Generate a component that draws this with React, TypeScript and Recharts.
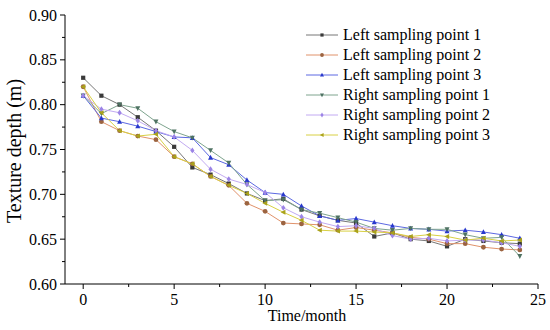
import { LineChart, Line, XAxis, YAxis } from "recharts"

const months = [0, 1, 2, 3, 4, 5, 6, 7, 8, 9, 10, 11, 12, 13, 14, 15, 16, 17, 18, 19, 20, 21, 22, 23, 24]

const left1 = [0.83, 0.81, 0.8, 0.786, 0.771, 0.753, 0.73, 0.722, 0.712, 0.701, 0.693, 0.695, 0.683, 0.676, 0.671, 0.668, 0.653, 0.657, 0.65, 0.648, 0.642, 0.65, 0.648, 0.646, 0.645]
const left2 = [0.82, 0.781, 0.771, 0.765, 0.761, 0.742, 0.734, 0.72, 0.71, 0.69, 0.681, 0.668, 0.667, 0.666, 0.66, 0.663, 0.66, 0.657, 0.652, 0.65, 0.645, 0.645, 0.641, 0.639, 0.638]
const left3 = [0.81, 0.785, 0.781, 0.776, 0.77, 0.764, 0.763, 0.741, 0.733, 0.716, 0.702, 0.7, 0.687, 0.676, 0.671, 0.673, 0.669, 0.665, 0.662, 0.661, 0.659, 0.66, 0.658, 0.655, 0.651]
const right1 = [0.81, 0.79, 0.8, 0.796, 0.781, 0.77, 0.763, 0.749, 0.735, 0.711, 0.693, 0.694, 0.683, 0.679, 0.674, 0.669, 0.662, 0.66, 0.662, 0.661, 0.661, 0.655, 0.651, 0.652, 0.631]
const right2 = [0.81, 0.795, 0.791, 0.782, 0.771, 0.764, 0.749, 0.728, 0.717, 0.711, 0.702, 0.685, 0.675, 0.669, 0.664, 0.665, 0.662, 0.654, 0.65, 0.651, 0.648, 0.649, 0.649, 0.646, 0.642]
const right3 = [0.82, 0.791, 0.771, 0.765, 0.767, 0.742, 0.734, 0.72, 0.71, 0.701, 0.69, 0.68, 0.671, 0.66, 0.659, 0.659, 0.658, 0.657, 0.653, 0.655, 0.653, 0.649, 0.651, 0.648, 0.649]

const xTicks = [0, 2.5, 5, 7.5, 10, 12.5, 15, 17.5, 20, 22.5, 25]
const yTicks = [0.6, 0.625, 0.65, 0.675, 0.7, 0.725, 0.75, 0.775, 0.8, 0.825, 0.85, 0.875, 0.9]

const FONT = '"Liberation Serif", "Times New Roman", serif'

type Shape = "square" | "circle" | "up" | "down" | "diamond" | "left"

const SERIES: { key: string; name: string; values: number[]; line: string; mark: string; shape: Shape }[] = [
  { key: "L1", name: "Left sampling point 1", values: left1, line: "#777777", mark: "#3a3a3a", shape: "square" },
  { key: "L2", name: "Left sampling point 2", values: left2, line: "#e0926a", mark: "#9c6440", shape: "circle" },
  { key: "L3", name: "Left sampling point 3", values: left3, line: "#5c68e2", mark: "#2838cc", shape: "up" },
  { key: "R1", name: "Right sampling point 1", values: right1, line: "#7ea48e", mark: "#4e7262", shape: "down" },
  { key: "R2", name: "Right sampling point 2", values: right2, line: "#c2aaf2", mark: "#9c84e6", shape: "diamond" },
  { key: "R3", name: "Right sampling point 3", values: right3, line: "#d8d044", mark: "#aaa21a", shape: "left" },
]

const data = months.map((m, i) => {
  const row: Record<string, number> = { m }
  for (const s of SERIES) row[s.key] = s.values[i]
  return row
})

function Marker({ cx, cy, shape, color, r = 2.1 }: { cx: number; cy: number; shape: Shape; color: string; r?: number }) {
  if (shape === "square") return <rect x={cx - r} y={cy - r} width={r * 2} height={r * 2} fill={color} />
  if (shape === "circle") return <circle cx={cx} cy={cy} r={r + 0.3} fill={color} />
  if (shape === "up") return <polygon points={`${cx},${cy - r - 0.6} ${cx - r - 0.4},${cy + r} ${cx + r + 0.4},${cy + r}`} fill={color} />
  if (shape === "down") return <polygon points={`${cx},${cy + r + 0.6} ${cx - r - 0.4},${cy - r} ${cx + r + 0.4},${cy - r}`} fill={color} />
  if (shape === "diamond") return <polygon points={`${cx},${cy - r - 0.8} ${cx + r},${cy} ${cx},${cy + r + 0.8} ${cx - r},${cy}`} fill={color} />
  return <polygon points={`${cx - r - 0.6},${cy} ${cx + r},${cy - r - 0.4} ${cx + r},${cy + r + 0.4}`} fill={color} />
}

function XTick({ x, y, payload }: any) {
  const v = payload.value as number
  const major = v % 5 === 0
  return (
    <g>
      <line x1={x} x2={x} y1={y} y2={y + (major ? 5 : 3)} stroke="#000" strokeWidth={1} />
      {major && (
        <text x={x} y={y + 21} textAnchor="middle" fontFamily={FONT} fontSize={16} fill="#000">
          {v}
        </text>
      )}
    </g>
  )
}

function YTick({ x, y, payload }: any) {
  const v = payload.value as number
  const major = Math.abs(v * 20 - Math.round(v * 20)) < 1e-6
  return (
    <g>
      <line x1={x - (major ? 5 : 3)} x2={x} y1={y} y2={y} stroke="#000" strokeWidth={1} />
      {major && (
        <text x={x - 8} y={y} dy="0.35em" textAnchor="end" fontFamily={FONT} fontSize={16} fill="#000">
          {v.toFixed(2)}
        </text>
      )}
    </g>
  )
}

export default function App() {
  return (
    <div style={{ position: "absolute", left: 0, top: 0, width: 550, height: 330, background: "#fff", fontFamily: FONT }}>
      <LineChart width={550} height={330} data={data} margin={{ top: 15, right: 12, bottom: 0, left: 0 }}>
        <XAxis
          dataKey="m"
          type="number"
          domain={[-1, 25]}
          ticks={xTicks}
          interval={0}
          allowDataOverflow
          tickSize={0}
          tickMargin={0}
          tickLine={false}
          tick={<XTick />}
          height={46}
          axisLine={{ stroke: "#000", strokeWidth: 1 }}
        />
        <YAxis
          type="number"
          domain={[0.6, 0.9]}
          ticks={yTicks}
          interval={0}
          allowDataOverflow
          tickSize={0}
          tickMargin={0}
          tickLine={false}
          tick={<YTick />}
          width={65}
          axisLine={{ stroke: "#000", strokeWidth: 1 }}
        />
        {SERIES.map((s) => (
          <Line
            key={s.key}
            dataKey={s.key}
            name={s.name}
            type="linear"
            stroke={s.line}
            strokeWidth={1}
            isAnimationActive={false}
            dot={(p: any) => <Marker key={`${s.key}-${p.index}`} cx={p.cx} cy={p.cy} shape={s.shape} color={s.mark} />}
            activeDot={false}
          />
        ))}
      </LineChart>

      <div style={{ position: "absolute", left: 0, top: 151, width: 0, height: 0 }}>
        <div
          style={{
            position: "absolute",
            left: 14,
            top: 0,
            transform: "translate(-50%, -50%) rotate(-90deg)",
            whiteSpace: "nowrap",
            fontSize: 20,
            lineHeight: "20px",
          }}
        >
          Texture depth (m)
        </div>
      </div>

      <div style={{ position: "absolute", left: 0, width: 614, top: 306, textAlign: "center", fontSize: 16, lineHeight: "20px" }}>
        Time/month
      </div>

      <div style={{ position: "absolute", left: 306, top: 25 }}>
        {SERIES.map((s) => (
          <div key={s.key} style={{ display: "flex", alignItems: "center", height: 20, fontSize: 16, whiteSpace: "nowrap" }}>
            <svg width={32} height={20} style={{ marginRight: 5 }}>
              <line x1={0} x2={32} y1={10} y2={10} stroke={s.line} strokeWidth={1} />
              <Marker cx={16} cy={10} shape={s.shape} color={s.mark} r={1.6} />
            </svg>
            {s.name}
          </div>
        ))}
      </div>
    </div>
  )
}
